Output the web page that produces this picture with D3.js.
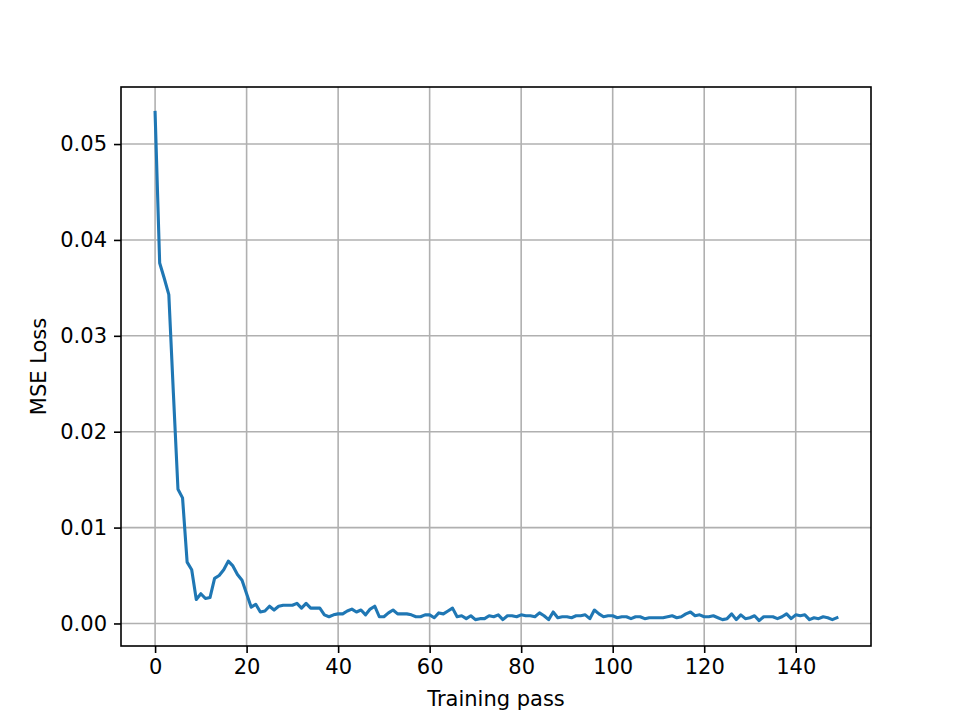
<!DOCTYPE html>
<html>
<head>
<meta charset="utf-8">
<script src="https://d3js.org/d3.v7.min.js"></script>
<style>
  body { margin: 0; background: #fff; }
  svg { display: block; }
  text { font-family: "DejaVu Sans", sans-serif; fill: #000; }
</style>
</head>
<body>
<div id="chart"></div>
<script>
// loss per training pass
const loss = [
  0.0533, 0.0376, 0.0360, 0.0343, 0.0240, 0.0140, 0.0131, 0.0064, 0.0056, 0.0025,
  0.0031, 0.0026, 0.0027, 0.0047, 0.0050, 0.0056, 0.0065, 0.0060, 0.0051, 0.0045,
  0.0031, 0.0017, 0.0020, 0.0012, 0.0013, 0.0018, 0.0014, 0.0018, 0.0019, 0.0019,
  0.0019, 0.0021, 0.0016, 0.0021, 0.0016, 0.0016, 0.0016, 0.0009, 0.0007, 0.0009,
  0.0010, 0.0010, 0.0013, 0.0015, 0.0012, 0.0014, 0.0009, 0.0015, 0.0018, 0.0007,
  0.0007, 0.0011, 0.0014, 0.0010, 0.0010, 0.0010, 0.0009, 0.0007, 0.0007, 0.0009,
  0.0009, 0.0006, 0.0011, 0.0010, 0.0013, 0.0016, 0.0007, 0.0008, 0.0005, 0.0008,
  0.0004, 0.0005, 0.0005, 0.0008, 0.0007, 0.0009, 0.0004, 0.0008, 0.0008, 0.0007,
  0.0009, 0.0008, 0.0008, 0.0007, 0.0011, 0.0008, 0.0004, 0.0012, 0.0006, 0.0007,
  0.0007, 0.0006, 0.0008, 0.0008, 0.0009, 0.0005, 0.0014, 0.0010, 0.0007, 0.0008,
  0.0008, 0.0006, 0.0007, 0.0007, 0.0005, 0.0007, 0.0007, 0.0005, 0.0006, 0.0006,
  0.0006, 0.0006, 0.0007, 0.0008, 0.0006, 0.0007, 0.0010, 0.0012, 0.0008, 0.0009,
  0.0007, 0.0007, 0.0008, 0.0006, 0.0004, 0.0005, 0.0010, 0.0004, 0.0009, 0.0005,
  0.0006, 0.0008, 0.0003, 0.0007, 0.0007, 0.0007, 0.0005, 0.0007, 0.0010, 0.0005,
  0.0009, 0.0008, 0.0009, 0.0004, 0.0006, 0.0005, 0.0007, 0.0006, 0.0004, 0.0006
];
const xTicks = [0, 20, 40, 60, 80, 100, 120, 140];
const yTicks = [0, 0.01, 0.02, 0.03, 0.04, 0.05];
const xTitle = "Training pass";
const yTitle = "MSE Loss";

const width = 968, height = 726;
const margin = { left: 121, right: 97, top: 87, bottom: 80 };
const plotW = width - margin.left - margin.right;
const plotH = height - margin.top - margin.bottom;

// matplotlib-style 5% padding
const n = loss.length;
const xPad = (n - 1) * 0.05;
const yMin = d3.min(loss), yMax = d3.max(loss);
const yPad = (yMax - yMin) * 0.05;

const x = d3.scaleLinear().domain([-xPad, n - 1 + xPad]).range([0, plotW]);
const y = d3.scaleLinear().domain([yMin - yPad, yMax + yPad]).range([plotH, 0]);

const svg = d3.select("#chart").append("svg")
    .attr("width", width)
    .attr("height", height);

const g = svg.append("g")
    .attr("transform", `translate(${margin.left},${margin.top})`);

// grid
g.append("g")
    .selectAll("line")
    .data(xTicks)
    .enter().append("line")
    .attr("x1", d => x(d)).attr("x2", d => x(d))
    .attr("y1", 0).attr("y2", plotH)
    .attr("stroke", "#b0b0b0")
    .attr("stroke-width", 1.6);

g.append("g")
    .selectAll("line")
    .data(yTicks)
    .enter().append("line")
    .attr("x1", 0).attr("x2", plotW)
    .attr("y1", d => y(d)).attr("y2", d => y(d))
    .attr("stroke", "#b0b0b0")
    .attr("stroke-width", 1.6);

// loss line
const line = d3.line()
    .x((d, i) => x(i))
    .y(d => y(d));

g.append("path")
    .datum(loss)
    .attr("fill", "none")
    .attr("stroke", "#1f77b4")
    .attr("stroke-width", 3.1)
    .attr("stroke-linejoin", "round")
    .attr("stroke-linecap", "square")
    .attr("d", line);

// axes
const xAxis = g.append("g")
    .attr("transform", `translate(0,${plotH})`)
    .call(d3.axisBottom(x).tickValues(xTicks).tickFormat(d3.format("d"))
        .tickSize(7).tickPadding(6));

const yAxis = g.append("g")
    .call(d3.axisLeft(y).tickValues(yTicks).tickFormat(d3.format(".2f"))
        .tickSize(7).tickPadding(7));

[xAxis, yAxis].forEach(a => {
    a.select(".domain").remove();
    a.selectAll(".tick line").attr("stroke", "#000").attr("stroke-width", 1.6);
    a.selectAll(".tick text").style("font-size", "21px").attr("fill", "#000");
});

// frame
g.append("rect")
    .attr("width", plotW)
    .attr("height", plotH)
    .attr("fill", "none")
    .attr("stroke", "#000")
    .attr("stroke-width", 1.6);

// titles
svg.append("text")
    .attr("x", margin.left + plotW / 2)
    .attr("y", 706)
    .attr("text-anchor", "middle")
    .style("font-size", "21px")
    .text(xTitle);

svg.append("text")
    .attr("transform", `translate(46,${margin.top + plotH / 2}) rotate(-90)`)
    .attr("text-anchor", "middle")
    .style("font-size", "21px")
    .text(yTitle);
</script>
</body>
</html>
